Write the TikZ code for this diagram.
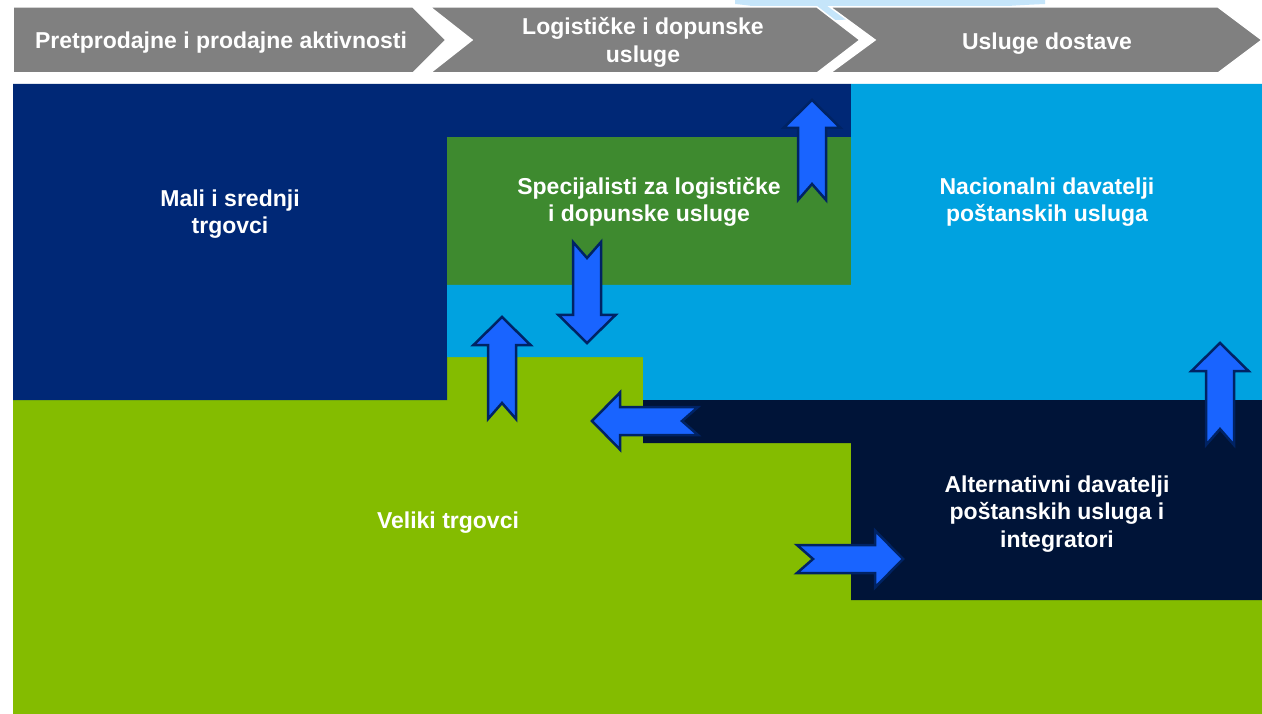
\documentclass[tikz,border=0pt]{standalone}
\usepackage{fontspec}
\setmainfont{Liberation Sans}
\definecolor{navy}{RGB}{0,40,118}
\definecolor{dkgreen}{RGB}{62,138,47}
\definecolor{skyblue}{RGB}{0,162,224}
\definecolor{limegreen}{RGB}{132,188,0}
\definecolor{nightblue}{RGB}{0,20,56}
\definecolor{chevgray}{RGB}{128,128,128}
\definecolor{arrowfill}{RGB}{25,100,255}
\definecolor{arrowline}{RGB}{0,35,100}
\definecolor{paleblue}{RGB}{197,229,250}
\tikzset{
  lbl/.style={text=white, font=\fontsize{23}{27.5}\selectfont\bfseries, align=center, inner sep=0pt},
  chev/.style={fill=chevgray, draw=white, line width=1.5pt},
  arrowbody/.style={fill=arrowfill, draw=arrowline, line width=2.5pt, line join=miter},
  pics/blockarrow/.style={code={
    \path[arrowbody] (0,-14) -- (#1-28,-14) -- (#1-28,-28.5) -- (#1,0) -- (#1-28,28.5) -- (#1-28,14) -- (0,14) -- (16,0) -- cycle;
  }}
}
\begin{document}
\begin{tikzpicture}[x=1pt,y=-1pt]
\useasboundingbox (0,0) rectangle (1262,714);
\fill[white] (0,0) rectangle (1262,714);
% pale blue shape peeking behind the banners
\fill[paleblue] (735,0) -- (1045,0) -- (1045,4) .. controls (950,8) and (880,20) .. (830,20) .. controls (800,20) and (780,8) .. (735,4) -- cycle;
% banners
\path[chev] (13,7) -- (413,7) -- (446,40) -- (413,73) -- (13,73) -- cycle;
\path[chev] (430,7) -- (817,7) -- (860,40) -- (817,73) -- (430,73) -- (472,40) -- cycle;
\path[chev] (830,7) -- (1218,7) -- (1262,40) -- (1218,73) -- (830,73) -- (875,40) -- cycle;
\node[lbl, anchor=base] (h1) at (221,49) {Pretprodajne i prodajne aktivnosti};
\node[lbl] (h2) at (643,42.5) {Logističke i dopunske\\usluge};
\node[lbl, anchor=base] (h3) at (1047,50) {Usluge dostave};
% regions
\fill[limegreen] (13,400) -- (447,400) -- (447,357) -- (643,357) -- (643,443) -- (851,443) -- (851,600) -- (1262,600) -- (1262,714) -- (13,714) -- cycle;
\fill[navy] (13,84) -- (851,84) -- (851,137) -- (447,137) -- (447,400) -- (13,400) -- cycle;
\fill[dkgreen] (447,137) rectangle (851,285);
\fill[skyblue] (851,84) -- (1262,84) -- (1262,400) -- (643,400) -- (643,357) -- (447,357) -- (447,285) -- (851,285) -- cycle;
\fill[nightblue] (643,400) -- (1262,400) -- (1262,600) -- (851,600) -- (851,443) -- (643,443) -- cycle;
% labels
\node[lbl] (mali) at (230,214) {Mali i srednji\\trgovci};
\node[lbl] (spec) at (649,202) {Specijalisti za logističke\\i dopunske usluge};
\node[lbl] (nac) at (1047,202) {Nacionalni davatelji\\poštanskih usluga};
\node[lbl, anchor=base] (vel) at (448,528) {Veliki trgovci};
\node[lbl] (alt) at (1057,514) {Alternativni davatelji\\poštanskih usluga i\\integratori};
% block arrows
\pic[rotate=90] (a1) at (812,200) {blockarrow=100};
\pic[rotate=-90] (a2) at (587,242) {blockarrow=101};
\pic[rotate=90] (a3) at (502,419) {blockarrow=102};
\pic[rotate=180] (a4) at (698,421) {blockarrow=106};
\pic (a5) at (797,559) {blockarrow=106};
\pic[rotate=90] (a6) at (1220,445) {blockarrow=102};
\end{tikzpicture}
\end{document}
